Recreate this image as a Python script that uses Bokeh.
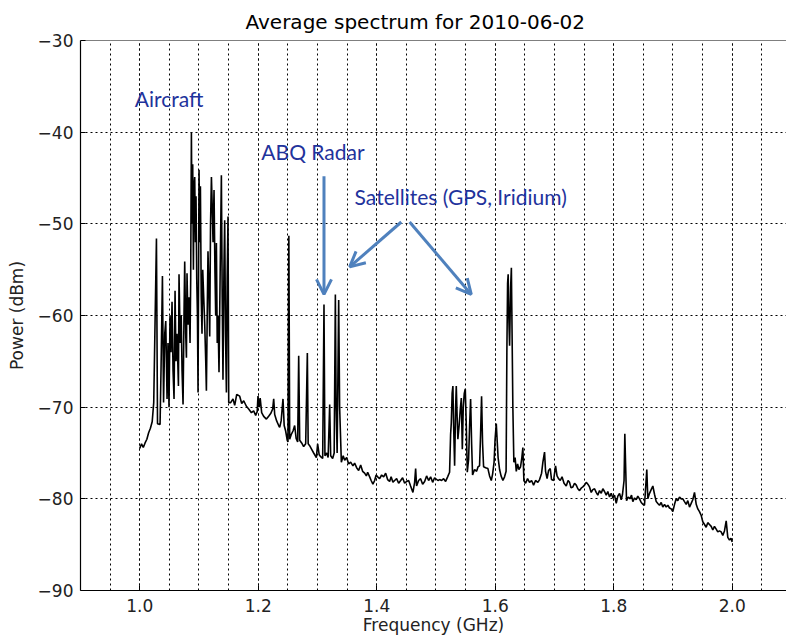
from bokeh.plotting import figure
from bokeh.models import (Range1d, SingleIntervalTicker, PrintfTickFormatter,
                          CustomJSTickFormatter, Arrow, OpenHead, Span, ColumnDataSource)
from bokeh.core.properties import value
from bokeh.embed import file_html
from bokeh.resources import INLINE

# ---------------- data (GHz, dBm) ----------------
f_start = [1.000, 1.003, 1.006, 1.009, 1.012, 1.015, 1.018, 1.021]
p_start = [-74.5, -74.0, -74.4, -73.9, -73.5, -72.8, -72.3, -71.6]

f_aircraft = [1.0236, 1.0282, 1.0300, 1.0343, 1.0359, 1.0383, 1.0402, 1.0422, 1.0439, 1.0461,
              1.0477, 1.0494, 1.0511, 1.0528, 1.0545, 1.0562, 1.0579, 1.0596, 1.0612, 1.0629,
              1.0653, 1.0663, 1.0683, 1.0700, 1.0714, 1.0731, 1.0747, 1.0759, 1.0776, 1.0788,
              1.0798, 1.0815, 1.0832, 1.0849, 1.0860, 1.0872, 1.0882, 1.0894, 1.0906, 1.0916,
              1.0928, 1.0940, 1.0950, 1.0962, 1.0974, 1.0984, 1.1001, 1.1012, 1.1024, 1.1038,
              1.1051, 1.1063, 1.1080, 1.1097, 1.1114, 1.1125, 1.1139, 1.1152, 1.1164, 1.1181,
              1.1195, 1.1210, 1.1223, 1.1237, 1.1254, 1.1269, 1.1282, 1.1294, 1.1308, 1.1321,
              1.1338, 1.1358, 1.1378, 1.1392, 1.1405, 1.1421, 1.1434, 1.1448, 1.1463, 1.1476,
              1.1490, 1.1502]
p_aircraft = [-69.5, -51.6, -71.8, -71.9, -66.0, -55.7, -69.5, -62.0, -60.6, -69.1,
              -63.0, -70.0, -60.0, -64.0, -58.5, -66.0, -69.1, -57.3, -65.0, -62.0,
              -67.7, -55.5, -63.0, -60.0, -66.0, -69.7, -60.0, -54.1, -62.0, -64.6,
              -55.4, -61.0, -58.0, -63.0, -56.0, -40.0, -50.0, -43.5, -55.0, -46.0,
              -44.9, -52.0, -47.0, -56.0, -60.0, -68.4, -44.1, -52.0, -45.9, -58.0,
              -62.0, -55.0, -58.0, -61.0, -65.0, -68.2, -60.0, -53.0, -56.0, -62.3,
              -50.0, -44.9, -48.0, -52.0, -46.3, -55.0, -60.0, -52.1, -63.0, -60.0,
              -66.2, -55.0, -44.7, -58.0, -67.0, -55.0, -49.6, -62.0, -68.4, -56.0,
              -49.2, -69.5]

f_lband = [1.1535, 1.1574, 1.1603, 1.1637, 1.1687, 1.1721, 1.1755, 1.1800, 1.1839, 1.1885,
           1.1923, 1.1957, 1.1982, 1.1996, 1.2016, 1.2033, 1.2058, 1.2092, 1.2138, 1.2176,
           1.2210, 1.2244, 1.2261, 1.2278, 1.2311, 1.2345, 1.2362, 1.2387, 1.2418, 1.2438,
           1.2463, 1.2489, 1.2502, 1.2517, 1.2531, 1.2556, 1.2587, 1.2615, 1.2640, 1.2666,
           1.2683, 1.2700, 1.2733, 1.2767, 1.2801, 1.2829, 1.2843, 1.2868, 1.2902, 1.2936,
           1.2981, 1.3003, 1.3029, 1.3054, 1.3088, 1.3110, 1.3126, 1.3155, 1.3180, 1.3206,
           1.3223, 1.3256, 1.3282, 1.3302, 1.3315, 1.3332, 1.3358, 1.3374, 1.3403, 1.3434,
           1.3459, 1.3493, 1.3526, 1.3560, 1.3599, 1.3627, 1.3661, 1.3695, 1.3729, 1.3762,
           1.3796, 1.3825, 1.3847, 1.3881, 1.3906, 1.3936, 1.3965, 1.3990, 1.4016, 1.4049,
           1.4083, 1.4117, 1.4151, 1.4184, 1.4218, 1.4243, 1.4274, 1.4302, 1.4336, 1.4370,
           1.4404, 1.4437, 1.4471, 1.4505, 1.4539, 1.4572, 1.4611, 1.4640, 1.4657, 1.4673,
           1.4707, 1.4741, 1.4775, 1.4809, 1.4842, 1.4876, 1.4910, 1.4944, 1.4977, 1.5033,
           1.5062, 1.5095, 1.5129, 1.5163, 1.5197]
p_lband = [-69.5, -69.1, -69.8, -68.6, -68.8, -69.6, -69.3, -69.9, -70.2, -70.6,
           -70.4, -70.9, -70.5, -68.8, -70.0, -69.0, -70.6, -71.0, -71.3, -71.0,
           -70.7, -70.2, -69.1, -70.8, -71.5, -72.0, -72.2, -71.5, -69.1, -72.0,
           -72.6, -73.6, -73.8, -51.3, -73.5, -73.0, -72.6, -72.0, -73.4, -73.8,
           -64.4, -73.6, -73.9, -74.3, -74.0, -64.1, -74.0, -74.2, -74.6, -75.0,
           -75.5, -74.0, -75.2, -75.4, -75.6, -58.8, -75.3, -75.0, -75.5, -69.7,
           -75.3, -75.6, -75.0, -57.7, -70.0, -75.0, -58.3, -70.0, -76.0, -75.3,
           -75.8, -75.5, -76.2, -76.0, -76.4, -76.1, -76.6, -76.9, -76.3, -77.0,
           -77.2, -77.5, -77.1, -77.6, -78.0, -78.4, -78.0, -77.4, -77.6, -77.8,
           -77.4, -77.6, -77.2, -77.9, -78.1, -77.6, -78.2, -78.0, -77.8, -78.3,
           -78.0, -77.7, -78.3, -78.1, -78.0, -78.6, -79.3, -78.2, -76.7, -78.6,
           -78.0, -77.8, -78.4, -78.1, -77.5, -78.0, -77.6, -78.2, -77.7, -78.0,
           -77.9, -78.0, -77.8, -78.1, -77.6]

f_gps = [1.5230, 1.5247, 1.5259, 1.5273, 1.5286, 1.5298, 1.5315, 1.5332, 1.5343, 1.5357,
         1.5370, 1.5391, 1.5411, 1.5428, 1.5445, 1.5461, 1.5478, 1.5495, 1.5512, 1.5529,
         1.5551, 1.5568, 1.5585, 1.5602, 1.5618, 1.5652, 1.5686, 1.5711, 1.5736, 1.5753,
         1.5770, 1.5787, 1.5804, 1.5838, 1.5877, 1.5905, 1.5934, 1.5956, 1.5981, 1.5998,
         1.6018, 1.6032, 1.6049, 1.6074, 1.6099, 1.6130, 1.6158, 1.6184]
p_gps = [-77.1, -73.0, -71.7, -68.5, -67.7, -72.0, -76.4, -70.0, -67.7, -71.0,
         -73.5, -72.0, -70.2, -69.0, -74.6, -70.0, -68.5, -68.0, -72.0, -77.1,
         -75.7, -72.0, -69.1, -74.0, -77.4, -76.8, -77.0, -76.5, -76.4, -73.0,
         -68.8, -74.0, -76.5, -76.6, -76.7, -77.5, -78.0, -77.3, -76.0, -73.5,
         -71.8, -73.5, -75.5, -76.8, -77.5, -78.0, -77.6, -77.0]

f_iridium = [1.6197, 1.6209, 1.6219, 1.6229, 1.6243, 1.6260, 1.6273, 1.6285, 1.6298]
p_iridium = [-64.0, -56.5, -55.5, -60.0, -63.3, -57.0, -54.8, -62.0, -70.0]

f_high = [1.6315, 1.6336, 1.6356, 1.6378, 1.6400, 1.6428, 1.6450, 1.6467, 1.6484, 1.6513,
          1.6546, 1.6580, 1.6614, 1.6648, 1.6681, 1.6720, 1.6749, 1.6783, 1.6805, 1.6820,
          1.6833, 1.6850, 1.6876, 1.6901, 1.6929, 1.6951, 1.6985, 1.7019, 1.7044, 1.7069,
          1.7098, 1.7128, 1.7162, 1.7199, 1.7230, 1.7255, 1.7280, 1.7311, 1.7339, 1.7368,
          1.7395, 1.7424, 1.7457, 1.7479, 1.7508, 1.7537, 1.7564, 1.7592, 1.7621, 1.7648,
          1.7677, 1.7705, 1.7732, 1.7761, 1.7790, 1.7817, 1.7845, 1.7874, 1.7901, 1.7930,
          1.7958, 1.7986, 1.8014, 1.8043, 1.8070, 1.8099, 1.8127, 1.8149, 1.8175, 1.8188,
          1.8200, 1.8217, 1.8245, 1.8273, 1.8301, 1.8323, 1.8352, 1.8380, 1.8407, 1.8436,
          1.8465, 1.8492, 1.8520, 1.8542, 1.8559, 1.8576, 1.8605, 1.8633, 1.8661, 1.8689,
          1.8718, 1.8745, 1.8773, 1.8802, 1.8829, 1.8858, 1.8886, 1.8914, 1.8942, 1.8971,
          1.8998, 1.9027, 1.9055, 1.9082, 1.9111, 1.9140, 1.9167, 1.9195, 1.9224, 1.9251,
          1.9280, 1.9308, 1.9335, 1.9364, 1.9393, 1.9420, 1.9448, 1.9477, 1.9504, 1.9533,
          1.9561, 1.9588, 1.9617, 1.9646, 1.9673, 1.9701, 1.9730, 1.9757, 1.9786, 1.9814,
          1.9842, 1.9870, 1.9899, 1.9926, 1.9955, 1.9980, 2.0000]
p_high = [-76.0, -75.5, -77.0, -76.2, -76.8, -76.5, -75.5, -74.4, -78.0, -78.3,
          -77.8, -78.2, -78.0, -78.5, -78.0, -78.2, -77.9, -77.2, -76.0, -75.4,
          -74.9, -77.0, -77.8, -76.9, -76.7, -77.9, -78.0, -76.4, -77.5, -77.8,
          -78.0, -77.6, -78.3, -78.6, -78.0, -78.2, -78.8, -78.7, -78.3, -78.5,
          -78.9, -79.1, -78.8, -78.7, -78.5, -78.2, -78.4, -78.7, -79.3, -79.0,
          -78.9, -79.3, -79.6, -79.1, -79.4, -78.9, -79.2, -79.6, -79.2, -79.8,
          -79.4, -79.9, -79.6, -80.5, -79.7, -79.4, -80.1, -79.5, -78.0, -72.9,
          -76.0, -80.2, -79.8, -80.0, -79.6, -80.3, -79.9, -80.1, -79.7, -80.0,
          -80.4, -80.6, -80.7, -78.5, -76.8, -80.0, -79.4, -79.0, -78.6, -79.5,
          -80.3, -80.5, -80.7, -80.4, -80.9, -80.6, -80.9, -80.7, -81.0, -81.1,
          -81.4, -80.6, -80.0, -80.2, -79.8, -80.0, -80.0, -80.3, -80.6, -80.2,
          -80.9, -80.5, -80.1, -79.3, -80.6, -81.1, -81.4, -81.8, -82.5, -82.8,
          -83.1, -82.6, -82.8, -83.0, -83.4, -83.0, -83.3, -83.6, -83.5, -83.6,
          -84.0, -83.5, -82.4, -84.2, -84.5, -84.3, -84.7]

freq_ghz = f_start + f_aircraft + f_lband + f_gps + f_iridium + f_high
power_dbm = p_start + p_aircraft + p_lband + p_gps + p_iridium + p_high

# annotations
note_text = ["Aircraft", "ABQ Radar", "Satellites (GPS, Iridium)"]
note_x = [0.9916, 1.2053, 1.3627]
note_y = [-36.3, -42.1, -47.0]
arrow_x0 = [1.311, 1.4415, 1.4555]
arrow_y0 = [-44.8, -49.8, -49.8]
arrow_x1 = [1.311, 1.3543, 1.5596]
arrow_y1 = [-57.7, -54.7, -57.7]

# ---------------- figure ----------------
FONT = "DejaVu Sans"
p = figure(width=786, height=637, output_backend="svg", toolbar_location=None,
           x_range=Range1d(0.9, 2.0917), y_range=Range1d(-90, -30),
           min_border_left=80, min_border_right=0, min_border_top=40, min_border_bottom=45,
           title="Average spectrum for 2010-06-02")
p.outline_line_color = None
p.background_fill_color = "white"
p.border_fill_color = "white"

p.title.align = "left"
p.title.offset = 165
p.title.standoff = 14
p.title.text_font = FONT
p.title.text_font_size = "20px"
p.title.text_font_style = "normal"
p.title.text_color = "black"

p.xaxis.ticker = SingleIntervalTicker(interval=0.2, num_minor_ticks=4)
p.yaxis.ticker = SingleIntervalTicker(interval=10, num_minor_ticks=0)
p.xaxis.formatter = PrintfTickFormatter(format="%.1f")
p.yaxis.formatter = CustomJSTickFormatter(
    code="return (tick < 0 ? '\u2212' : '') + Math.abs(tick).toFixed(0);")

for ax in (p.xaxis, p.yaxis):
    ax.axis_line_color = "black"
    ax.axis_line_width = 1.2
    ax.major_tick_in = 5
    ax.major_tick_out = 0
    ax.major_tick_line_color = "black"
    ax.minor_tick_line_color = None
    ax.major_label_text_font = FONT
    ax.major_label_text_font_size = "17px"
    ax.major_label_text_color = "#222222"
    ax.axis_label_text_font = FONT
    ax.axis_label_text_font_size = "17px"
    ax.axis_label_text_font_style = "normal"
    ax.axis_label_text_color = "#222222"

p.xaxis.axis_label = "Frequency (GHz)"
p.yaxis.axis_label = "Power (dBm)"
p.xaxis.major_label_standoff = 4
p.xaxis.axis_label_standoff = 0
p.yaxis.major_label_standoff = 7
p.yaxis.axis_label_standoff = 8

for g in (p.xgrid, p.ygrid):
    g.grid_line_color = "black"
    g.grid_line_dash = "2 3"
    g.grid_line_width = 1
p.xgrid.minor_grid_line_color = "black"
p.xgrid.minor_grid_line_dash = "2 3"
p.xgrid.minor_grid_line_width = 1

# top border line of the frame
p.add_layout(Span(location=-30, dimension="width", line_color="black", line_width=1.2))

src = ColumnDataSource(dict(f=freq_ghz, pw=power_dbm))
p.line("f", "pw", source=src, line_color="black", line_width=1.6)

ARROW_C = "#4f81bd"
for x0, y0, x1, y1 in zip(arrow_x0, arrow_y0, arrow_x1, arrow_y1):
    p.add_layout(Arrow(end=OpenHead(size=15, line_color=ARROW_C, line_width=3),
                       x_start=x0, y_start=y0, x_end=x1, y_end=y1,
                       line_color=ARROW_C, line_width=3))

p.text(x=note_x, y=note_y, text=note_text, text_font=value("Lato"),
       text_font_size="21px", text_color="#1f339c", text_baseline="middle",
       text_align="left")

open("out.html", "w").write(file_html(p, INLINE))
